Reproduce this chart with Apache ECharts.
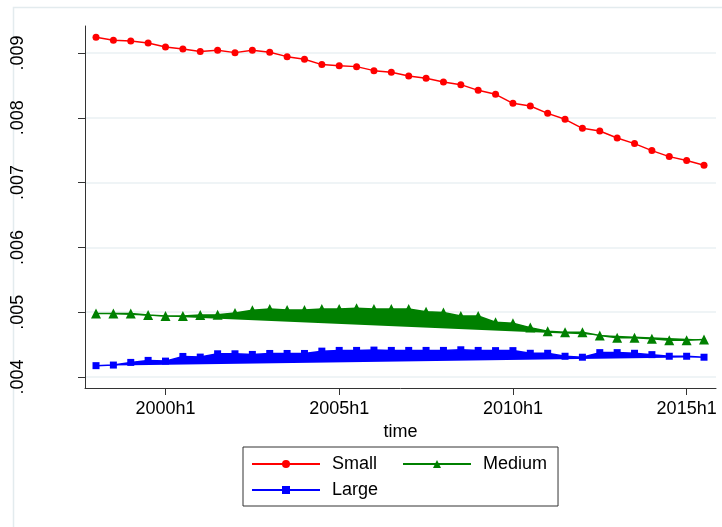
<!DOCTYPE html>
<html>
<head>
<meta charset="utf-8">
<script src="https://cdn.jsdelivr.net/npm/echarts@6/dist/echarts.min.js"></script>
<style>
  html, body { margin: 0; padding: 0; background: #fff; }
  #main { width: 722px; height: 527px; }
</style>
</head>
<body>
<div id="main"></div>
<script>
// half-year periods, 1998h1 .. 2015h2
var times = ['1998h1','1998h2','1999h1','1999h2','2000h1','2000h2','2001h1','2001h2',
  '2002h1','2002h2','2003h1','2003h2','2004h1','2004h2','2005h1','2005h2',
  '2006h1','2006h2','2007h1','2007h2','2008h1','2008h2','2009h1','2009h2',
  '2010h1','2010h2','2011h1','2011h2','2012h1','2012h2','2013h1','2013h2',
  '2014h1','2014h2','2015h1','2015h2'];

var small = [0.009242,0.009196,0.009185,0.009154,0.009093,0.009062,0.009022,0.009042,
  0.009006,0.009042,0.009011,0.008944,0.008903,0.008821,0.008805,0.008790,
  0.008728,0.008702,0.008645,0.008610,0.008553,0.008512,0.008424,0.008363,
  0.008224,0.008182,0.008069,0.007977,0.007838,0.007796,0.007688,0.007602,
  0.007494,0.007401,0.007340,0.007267];

var medium = [0.004980,0.004980,0.004980,0.004957,0.004942,0.004942,0.004957,0.004962,
  0.004988,0.005031,0.005049,0.005034,0.005034,0.005049,0.005049,0.005059,
  0.005049,0.005049,0.005049,0.005008,0.004997,0.004942,0.004942,0.004844,
  0.004829,0.004762,0.004706,0.004690,0.004690,0.004639,0.004604,0.004604,
  0.004589,0.004568,0.004568,0.004578];

var large = [0.004175,0.004184,0.004225,0.004256,0.004245,0.004317,0.004307,0.004358,
  0.004358,0.004348,0.004363,0.004363,0.004363,0.004399,0.004410,0.004410,
  0.004415,0.004410,0.004410,0.004410,0.004410,0.004420,0.004410,0.004407,
  0.004407,0.004366,0.004366,0.004320,0.004305,0.004376,0.004376,0.004366,
  0.004345,0.004320,0.004320,0.004305];

var xTickLabels = ['2000h1','2005h1','2010h1','2015h1'];
var yTicks = [0.004,0.005,0.006,0.007,0.008,0.009];

var FONT = "'Liberation Sans', Arial, sans-serif";

function pairs(arr) {
  return arr.map(function (v, i) { return [i, v]; });
}

// filled polygon (line closed back to its first point), as in the original render
function fillSeries(arr, color) {
  return {
    type: 'custom',
    coordinateSystem: 'cartesian2d',
    silent: true,
    z: 1,
    data: [[0, arr[0]]],
    renderItem: function (params, api) {
      var pts = arr.map(function (v, i) { return api.coord([i, v]); });
      return { type: 'polygon', shape: { points: pts }, style: { fill: color } };
    }
  };
}

var myChart = echarts.init(document.getElementById('main'));
var option = {
  animation: false,
  textStyle: { fontFamily: FONT },
  graphic: [{
    type: 'rect',
    shape: { x: 13.5, y: 7.5, width: 740, height: 540 },
    style: { fill: 'none', stroke: '#e3ebee', lineWidth: 1.5 },
    z: 0
  }],
  grid: { left: 85, right: 6, top: 26, bottom: 139 },
  legend: {
    data: ['Small', 'Medium', 'Large'],
    left: 243,
    top: 447,
    width: 305,
    orient: 'horizontal',
    padding: [7, 11, 6, 8],
    itemGap: 6,
    itemWidth: 68,
    itemHeight: 10,
    borderColor: '#333',
    borderWidth: 1,
    textStyle: { fontFamily: FONT, fontSize: 18, color: '#000', width: 64, lineHeight: 20, padding: [0, 0, 0, 7] }
  },
  xAxis: {
    type: 'value',
    min: -0.634,
    max: 35.69,
    name: 'time',
    nameLocation: 'middle',
    nameGap: 30,
    nameTextStyle: { fontFamily: FONT, fontSize: 18, color: '#000' },
    axisLine: { show: true, onZero: false, lineStyle: { color: '#333', width: 1 } },
    axisTick: {
      show: true, length: 7, lineStyle: { color: '#333' },
      customValues: xTickLabels.map(function (l) { return times.indexOf(l); })
    },
    axisLabel: {
      fontFamily: FONT, fontSize: 18, color: '#000', margin: 12,
      customValues: xTickLabels.map(function (l) { return times.indexOf(l); }),
      formatter: function (v) { return times[Math.round(v)]; }
    },
    splitLine: { show: false }
  },
  yAxis: {
    type: 'value',
    min: 0.00383,
    max: 0.009417,
    axisLine: { show: true, onZero: false, lineStyle: { color: '#333', width: 1 } },
    axisTick: { show: true, length: 7, lineStyle: { color: '#333' }, customValues: yTicks },
    axisLabel: {
      fontFamily: FONT, fontSize: 18, color: '#000', rotate: 90, margin: 58,
      customValues: yTicks,
      formatter: function (v) { return v.toFixed(3).replace(/^0/, ''); }
    },
    splitLine: { show: true, lineStyle: { color: '#eaf0f3', width: 1.5 } }
  },
  series: [
    fillSeries(medium, '#008000'),
    fillSeries(large, '#0000ff'),
    {
      name: 'Small', type: 'line', data: pairs(small), z: 3,
      symbol: 'circle', symbolSize: 7,
      lineStyle: { color: '#ff0000', width: 1.5 },
      itemStyle: { color: '#ff0000' }
    },
    {
      name: 'Medium', type: 'line', data: pairs(medium), z: 3,
      symbol: 'triangle', symbolSize: 10,
      lineStyle: { color: '#008000', width: 1.5 },
      itemStyle: { color: '#008000' }
    },
    {
      name: 'Large', type: 'line', data: pairs(large), z: 3,
      symbol: 'rect', symbolSize: 7,
      lineStyle: { color: '#0000ff', width: 1.5 },
      itemStyle: { color: '#0000ff' }
    }
  ]
};
myChart.setOption(option);
</script>
</body>
</html>
